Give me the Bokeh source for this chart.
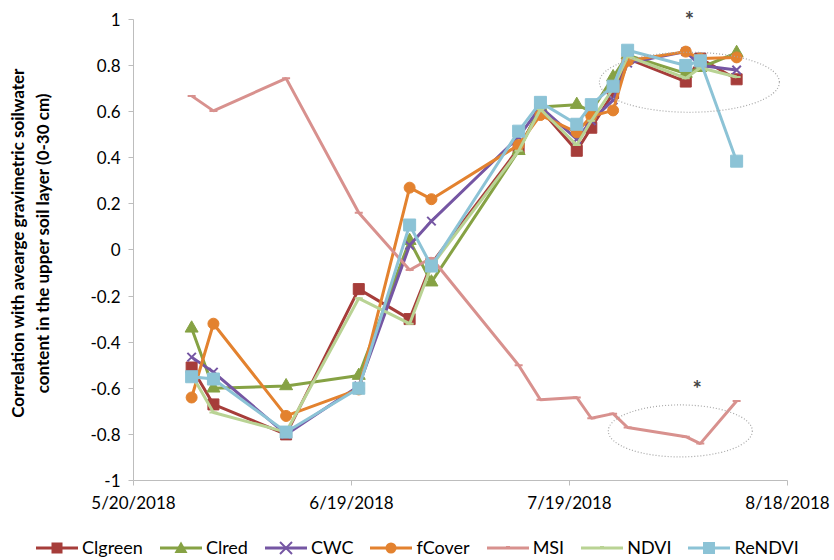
from datetime import datetime
from bokeh.plotting import figure
from bokeh.layouts import column
from bokeh.models import (Range1d, FixedTicker, CustomJSTickFormatter, Label,
                          ColumnDataSource, Div)
from bokeh.embed import file_html
from bokeh.resources import INLINE

# ---------------- data ----------------
dates = ["2018-05-28", "2018-05-31", "2018-06-10", "2018-06-20", "2018-06-27",
         "2018-06-30", "2018-07-12", "2018-07-15", "2018-07-20", "2018-07-22",
         "2018-07-25", "2018-07-27", "2018-08-04", "2018-08-06", "2018-08-11"]

CIgreen = [-0.51, -0.67, -0.80, -0.17, -0.30, -0.06, 0.44, 0.61, 0.43, 0.53, 0.68, 0.83, 0.73, 0.83, 0.74]
CIred = [-0.34, -0.60, -0.59, -0.545, 0.04, -0.14, 0.43, 0.62, 0.63, 0.60, 0.75, 0.845, 0.765, 0.79, 0.855]
CWC = [-0.465, -0.53, -0.80, -0.59, 0.02, 0.125, 0.49, 0.62, 0.48, 0.56, 0.65, 0.81, 0.86, 0.80, 0.78]
fCover = [-0.64, -0.32, -0.72, -0.605, 0.27, 0.22, 0.455, 0.585, 0.51, 0.58, 0.605, 0.82, 0.86, 0.83, 0.835]
MSI = [0.668, 0.603, 0.744, 0.161, -0.087, -0.035, -0.50, -0.65, -0.64, -0.73, -0.71, -0.77, -0.81, -0.84, -0.655]
NDVI = [-0.54, -0.705, -0.79, -0.21, -0.32, -0.07, 0.43, 0.61, 0.455, 0.56, 0.70, 0.84, 0.745, 0.79, 0.75]
ReNDVI = [-0.55, -0.56, -0.79, -0.60, 0.108, -0.07, 0.515, 0.64, 0.545, 0.63, 0.71, 0.866, 0.80, 0.82, 0.385]

series_names = ["CIgreen", "CIred", "CWC", "fCover", "MSI", "NDVI", "ReNDVI"]
legend_labels = ["Clgreen", "Clred", "CWC", "fCover", "MSI", "NDVI", "ReNDVI"]

x_tick_dates = ["2018-05-20", "2018-06-19", "2018-07-19", "2018-08-18"]
x_tick_labels = ["5/20/2018", "6/19/2018", "7/19/2018", "8/18/2018"]
y_ticks = [-1, -0.8, -0.6, -0.4, -0.2, 0, 0.2, 0.4, 0.6, 0.8, 1]

# ---------------- styles ----------------
colors = {"CIgreen": "#A63D3A", "CIred": "#86A244", "CWC": "#7556A3", "fCover": "#E3822F",
          "MSI": "#D8918E", "NDVI": "#B9D394", "ReNDVI": "#8CC3D6"}
markers = {"CIgreen": ("square", 11), "CIred": ("triangle", 13), "CWC": ("x", 12),
           "fCover": ("circle", 11), "MSI": ("dash", 8), "NDVI": ("dash", 8),
           "ReNDVI": ("square", 12)}

FONT = "Lato"

def ms(d, fmt="%Y-%m-%d"):
    return datetime.strptime(d, fmt).timestamp() * 1000.0

xs = [datetime.strptime(d, "%Y-%m-%d") for d in dates]
values = {"CIgreen": CIgreen, "CIred": CIred, "CWC": CWC, "fCover": fCover,
          "MSI": MSI, "NDVI": NDVI, "ReNDVI": ReNDVI}

p = figure(frame_width=654, frame_height=475, x_axis_type="datetime",
           output_backend="svg", toolbar_location=None,
           min_border_left=133, min_border_right=47, min_border_top=5,
           min_border_bottom=45)
p.x_range = Range1d(ms(x_tick_dates[0]), ms(x_tick_dates[-1]))
p.y_range = Range1d(-1, 1.06)
p.xgrid.grid_line_color = None
p.ygrid.grid_line_color = None
p.outline_line_color = None
p.background_fill_color = "white"
p.border_fill_color = "white"

for name in series_names:
    src = ColumnDataSource(dict(x=xs, y=values[name]))
    p.line("x", "y", source=src, line_color=colors[name], line_width=3)
    mk, sz = markers[name]
    p.scatter("x", "y", source=src, marker=mk, size=sz,
              fill_color=colors[name], line_color=colors[name],
              line_width=2 if mk in ("x", "dash") else 1)

# axes
p.xaxis.ticker = FixedTicker(ticks=[ms(d) for d in x_tick_dates])
p.xaxis.formatter = CustomJSTickFormatter(
    args=dict(tick_vals=[ms(d) for d in x_tick_dates], tick_labels=x_tick_labels),
    code="""
    let best = 0;
    for (let i = 0; i < tick_vals.length; i++) {
        if (Math.abs(tick_vals[i] - tick) < Math.abs(tick_vals[best] - tick)) best = i;
    }
    return tick_labels[best];
    """)
p.yaxis.ticker = FixedTicker(ticks=y_ticks)
p.yaxis.formatter = CustomJSTickFormatter(code="return (Math.round(tick*10)/10).toString();")
p.yaxis.bounds = (-1, 1)

for ax in (p.xaxis[0], p.yaxis[0]):
    ax.axis_line_color = "#BDBDBD"
    ax.axis_line_width = 1
    ax.major_tick_line_color = "#BDBDBD"
    ax.major_tick_in = 0
    ax.major_tick_out = 5
    ax.minor_tick_line_color = None
    ax.major_label_text_font = FONT
    ax.major_label_text_font_size = "17px"
    ax.major_label_text_color = "#000000"

p.xaxis.major_label_standoff = 6
p.yaxis.major_label_standoff = 8
p.yaxis.axis_label = ("Correlation with avearge gravimetric soilwater\n"
                      "content in the upper soil layer (0-30 cm)")
p.yaxis.axis_label_text_font = FONT
p.yaxis.axis_label_text_font_style = "bold"
p.yaxis.axis_label_text_font_size = "17px"
p.yaxis.axis_label_text_color = "#000000"
p.yaxis.axis_label_standoff = 34

# highlight ellipses and asterisks (annotations)
top_center = ("2018-08-04 12:00", 0.727)
bot_center = ("2018-08-03 06:00", -0.785)
top_star = ("2018-08-04 12:00", 1.0)
bot_star = ("2018-08-05 14:00", -0.60)
FMT = "%Y-%m-%d %H:%M"
p.ellipse(x=[datetime.strptime(top_center[0], FMT)], y=[top_center[1]],
          width=180, height=60, width_units="screen", height_units="screen",
          fill_color=None, line_color="#A6A6A6", line_width=1.2, line_dash="1 2")
p.ellipse(x=[datetime.strptime(bot_center[0], FMT)], y=[bot_center[1]],
          width=144, height=52, width_units="screen", height_units="screen",
          fill_color=None, line_color="#A6A6A6", line_width=1.2, line_dash="1 2")
p.add_layout(Label(x=ms(top_star[0], FMT), y=top_star[1], text="*", text_font=FONT,
                   text_font_size="22px", text_font_style="bold",
                   text_align="center", text_baseline="middle"))
p.add_layout(Label(x=ms(bot_star[0], FMT), y=bot_star[1], text="*", text_font=FONT,
                   text_font_size="22px", text_font_style="bold",
                   text_align="center", text_baseline="middle"))

# ---------------- legend strip (HTML Div below the chart) ----------------
def marker_svg(mk, sz, c):
    cx, cy, h = 21, 10, sz / 2.0
    if mk == "square":
        return f'<rect x="{cx-h}" y="{cy-h}" width="{sz}" height="{sz}" fill="{c}"/>'
    if mk == "triangle":
        return (f'<polygon points="{cx},{cy-h} {cx+h},{cy+h*0.75} {cx-h},{cy+h*0.75}" '
                f'fill="{c}"/>')
    if mk == "x":
        return (f'<line x1="{cx-h}" y1="{cy-h}" x2="{cx+h}" y2="{cy+h}" stroke="{c}" stroke-width="2"/>'
                f'<line x1="{cx-h}" y1="{cy+h}" x2="{cx+h}" y2="{cy-h}" stroke="{c}" stroke-width="2"/>')
    if mk == "circle":
        return f'<circle cx="{cx}" cy="{cy}" r="{h}" fill="{c}"/>'
    return (f'<line x1="{cx-h/2}" y1="{cy-1}" x2="{cx+h/2}" y2="{cy-1}" '
            f'stroke="{c}" stroke-width="2"/>')

parts = []
for name, lab in zip(series_names, legend_labels):
    c = colors[name]
    mk, sz = markers[name]
    parts.append(
        '<span style="display:inline-flex;align-items:center;margin-right:17px">'
        f'<svg width="42" height="20" viewBox="0 0 42 20">'
        f'<line x1="0" y1="10" x2="42" y2="10" stroke="{c}" stroke-width="3"/>'
        f'{marker_svg(mk, sz, c)}</svg>'
        f'<span style="margin-left:4px">{lab}</span></span>')

legend_div = Div(
    text=('<div style="display:flex;align-items:center;height:46px;'
          f'font-family:{FONT};font-size:18px;color:#000;white-space:nowrap;'
          'padding-left:36px">' + "".join(parts) + '</div>'),
    width=834, height=46, margin=(0, 0, 0, 0))

layout = column(p, legend_div, spacing=0)
open("out.html", "w").write(file_html(layout, INLINE))
